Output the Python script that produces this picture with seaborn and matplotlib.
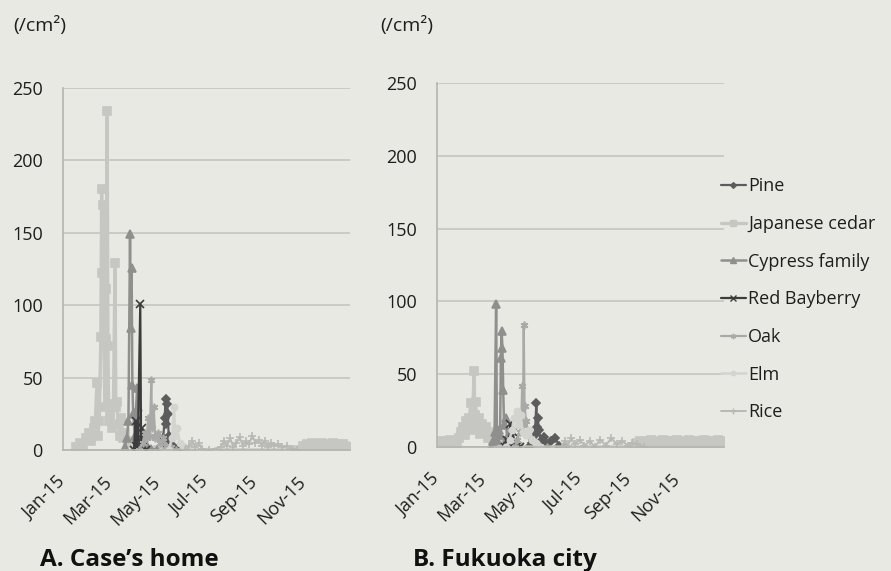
import numpy as np
import pandas as pd
import matplotlib
matplotlib.use("Agg")
import matplotlib.pyplot as plt
import matplotlib.dates as mdates
from matplotlib.lines import Line2D
import seaborn as sns

sns.set_theme(style="white")
plt.rcParams["font.family"] = ["Open Sans", "DejaVu Sans"]

YEAR = "2015-"

# ---------------- Data: A. Case's home ----------------
home_pine_dates = ["05-01", "05-05", "05-08", "05-10", "05-11", "05-12", "05-13", "05-14", "05-15", "05-17", "05-20", "05-25", "06-01"]
home_pine_vals = [0, 3, 8, 22, 35, 18, 32, 25, 10, 6, 3, 1, 0]

home_cedar_dates = ["01-18", "01-22", "01-26", "01-30", "02-03", "02-06", "02-09", "02-11", "02-13", "02-14", "02-16",
                    "02-18", "02-19", "02-20", "02-21", "02-22", "02-23", "02-24", "02-25", "02-26", "02-27", "02-28",
                    "03-02", "03-04", "03-06", "03-08", "03-09", "03-10", "03-12", "03-14", "03-16", "03-18", "03-21",
                    "03-24", "03-28", "04-02", "04-08", "04-15", "05-01", "10-25",
                    "11-01", "11-04", "11-07", "11-10", "11-13", "11-16", "11-19", "11-22", "11-25", "11-28",
                    "12-01", "12-04", "12-07", "12-10", "12-13", "12-16", "12-19", "12-22", "12-25", "12-28"]
home_cedar_vals = [2, 5, 3, 8, 12, 6, 15, 20, 46, 10, 20,
                   78, 180, 122, 169, 73, 30, 111, 77, 234, 72, 20,
                   25, 15, 32, 129, 30, 33, 18, 10, 22, 8, 12,
                   5, 6, 3, 2, 1, 0, 0,
                   3, 2, 4, 3, 5, 2, 4, 3, 5, 3,
                   4, 2, 4, 5, 3, 4, 2, 4, 3, 2]

home_cypress_dates = ["03-20", "03-23", "03-25", "03-27", "03-28", "03-29", "03-30", "03-31", "04-02", "04-05", "04-06",
                      "04-08", "04-10", "04-13", "04-17", "04-22", "04-30"]
home_cypress_vals = [2, 8, 20, 149, 84, 126, 45, 25, 10, 43, 30, 14, 8, 5, 3, 1, 0]

home_bayberry_dates = ["04-01", "04-03", "04-04", "04-06", "04-09", "04-10", "04-11", "04-13", "04-16"]
home_bayberry_vals = [0, 20, 3, 8, 101, 5, 15, 3, 0]

home_oak_dates = ["04-08", "04-12", "04-15", "04-17", "04-19", "04-21", "04-23", "04-24", "04-26", "04-28",
                  "05-01", "05-04", "05-08", "05-12", "05-18", "05-24"]
home_oak_vals = [0, 5, 12, 8, 22, 10, 48, 15, 30, 8, 12, 5, 8, 3, 2, 0]

home_elm_dates = ["05-15", "05-19", "05-22", "05-23", "05-26", "05-29", "06-02", "06-08", "06-15"]
home_elm_vals = [0, 8, 30, 10, 15, 5, 3, 1, 0]

home_rice_dates = ["06-05", "06-10", "06-14", "06-18", "06-22", "06-26", "07-05", "07-20", "07-24", "07-28",
                   "08-01", "08-05", "08-09", "08-13", "08-17", "08-21", "08-25", "08-29", "09-02", "09-06",
                   "09-10", "09-14", "09-18", "09-22", "09-26", "10-01", "10-06", "10-12", "10-18", "10-25"]
home_rice_vals = [0, 3, 6, 2, 5, 1, 0, 2, 6, 3, 8, 2, 5, 9, 3, 6, 4, 10, 5, 7, 3, 6, 2, 5, 3, 4, 2, 3, 1, 0]

# ---------------- Data: B. Fukuoka city ----------------
city_pine_dates = ["04-28", "05-02", "05-05", "05-07", "05-08", "05-09", "05-10", "05-13", "05-17", "05-21", "05-26",
                   "05-31", "06-05", "06-12"]
city_pine_vals = [0, 3, 8, 30, 14, 20, 12, 4, 7, 2, 4, 6, 1, 0]

city_cedar_dates = ["01-02", "01-05", "01-08", "01-11", "01-14", "01-17", "01-20", "01-23", "01-26", "01-29",
                    "02-01", "02-03", "02-05", "02-07", "02-09", "02-11", "02-13", "02-15", "02-17", "02-18",
                    "02-19", "02-21", "02-23", "02-25", "02-27", "03-01", "03-04", "03-07", "03-10", "03-13",
                    "03-16", "03-19", "03-24", "03-30", "04-06", "04-15", "09-08",
                    "09-12", "09-15", "09-18", "09-21", "09-24", "09-27", "09-30", "10-03", "10-06",
                    "10-09", "10-12", "10-15", "10-18", "10-21", "10-24", "10-27", "10-30", "11-02", "11-05",
                    "11-08", "11-11", "11-14", "11-17", "11-20", "11-23", "11-26", "11-29", "12-02", "12-05",
                    "12-08", "12-11", "12-14", "12-17", "12-20", "12-23", "12-26", "12-29", "12-31"]
city_cedar_vals = [3, 4, 2, 4, 3, 5, 3, 4, 2, 6,
                   10, 14, 8, 18, 12, 20, 30, 15, 52, 22,
                   31, 12, 20, 9, 16, 10, 14, 6, 10, 5,
                   8, 3, 4, 2, 1, 0, 0,
                   3, 4, 3, 2, 4, 3, 5, 3, 2,
                   4, 3, 5, 2, 4, 3, 4, 2, 5, 3,
                   4, 2, 3, 5, 3, 4, 2, 4, 3, 5,
                   2, 4, 3, 4, 2, 5, 3, 4, 3]

city_cypress_dates = ["03-10", "03-13", "03-15", "03-17", "03-18", "03-20", "03-22", "03-23", "03-24", "03-25",
                      "03-26", "03-27", "03-29", "03-31", "04-03", "04-08", "04-15"]
city_cypress_vals = [0, 4, 10, 98, 5, 12, 8, 61, 80, 68, 39, 15, 20, 6, 4, 2, 0]

city_bayberry_dates = ["03-28", "03-31", "04-02", "04-04", "04-05", "04-07", "04-09", "04-12", "04-16"]
city_bayberry_vals = [0, 5, 3, 16, 2, 10, 4, 1, 0]

city_oak_dates = ["04-10", "04-13", "04-16", "04-18", "04-19", "04-20", "04-21", "04-22", "04-24", "04-27",
                  "04-30", "05-05", "05-12", "05-20"]
city_oak_vals = [0, 5, 10, 20, 42, 15, 84, 28, 18, 10, 6, 3, 1, 0]

city_elm_dates = ["03-30", "04-03", "04-06", "04-09", "04-12", "04-14", "04-17", "04-20", "04-24", "04-28",
                  "05-02", "05-06", "05-12"]
city_elm_vals = [0, 5, 12, 20, 25, 15, 22, 10, 8, 12, 5, 3, 0]

city_rice_dates = ["06-08", "06-12", "06-16", "06-20", "06-25", "07-01", "07-07", "07-14", "07-20", "07-27",
                   "08-03", "08-10", "08-17", "08-24", "08-31", "09-05", "09-12", "09-20"]
city_rice_vals = [0, 4, 1, 6, 2, 5, 1, 4, 0, 5, 1, 6, 2, 4, 1, 3, 2, 0]

taxa = ["Pine", "Japanese cedar", "Cypress family", "Red Bayberry", "Oak", "Elm", "Rice"]
panel_titles = ["A. Case\u2019s home", "B. Fukuoka city"]
y_ticks = [0, 50, 100, 150, 200, 250]

home = [(home_pine_dates, home_pine_vals), (home_cedar_dates, home_cedar_vals),
        (home_cypress_dates, home_cypress_vals), (home_bayberry_dates, home_bayberry_vals),
        (home_oak_dates, home_oak_vals), (home_elm_dates, home_elm_vals), (home_rice_dates, home_rice_vals)]
city = [(city_pine_dates, city_pine_vals), (city_cedar_dates, city_cedar_vals),
        (city_cypress_dates, city_cypress_vals), (city_bayberry_dates, city_bayberry_vals),
        (city_oak_dates, city_oak_vals), (city_elm_dates, city_elm_vals), (city_rice_dates, city_rice_vals)]

# ---------------- Styles ----------------
colors = ["#5c5c5c", "#c6c6c3", "#8f8f8d", "#3c3c3c", "#a9a9a7", "#d3d3d0", "#b8b8b5"]
markers = ["D", "s", "^", "x", (6, 2, 0), "o", "+"]
msizes = [4.2, 6, 5.5, 5.5, 5.5, 4.5, 5.5]
lwidths = [1.6, 2.4, 1.8, 1.6, 1.6, 1.8, 1.4]

BG = "#e9e9e4"
TXT = "#1e1e1e"
fig = plt.figure(figsize=(8.91, 5.71), dpi=100, facecolor=BG)
W, H = 891, 571

def px_axes(x0, x1, y_top, y_bot):
    return fig.add_axes([x0 / W, 1 - y_bot / H, (x1 - x0) / W, (y_bot - y_top) / H])

ax_l = px_axes(63, 350, 88, 450)
ax_r = px_axes(437, 724, 83, 447)

for ax, data in [(ax_l, home), (ax_r, city)]:
    ax.set_facecolor(BG)
    for i, (d, v) in enumerate(data):
        df = pd.DataFrame({"date": pd.to_datetime([YEAR + s for s in d]), "value": v})
        sns.lineplot(data=df, x="date", y="value", ax=ax, color=colors[i], marker=markers[i],
                     markersize=msizes[i], markeredgecolor=colors[i], markeredgewidth=1.2,
                     linewidth=lwidths[i], estimator=None, sort=False, legend=False)
    ax.set_ylim(0, 250)
    ax.set_yticks(y_ticks)
    ax.set_xlim(pd.Timestamp("2015-01-01"), pd.Timestamp("2015-12-31"))
    ax.xaxis.set_major_locator(mdates.MonthLocator(bymonth=[1, 3, 5, 7, 9, 11]))
    ax.xaxis.set_major_formatter(mdates.DateFormatter("%b-%y"))
    ax.set_xlabel("")
    ax.set_ylabel("")
    ax.yaxis.grid(True, color="#c8c8c2", linewidth=1.3)
    ax.set_axisbelow(True)
    for s in ["top", "right"]:
        ax.spines[s].set_visible(False)
    for s in ["left", "bottom"]:
        ax.spines[s].set_color("#b5b5b0")
        ax.spines[s].set_linewidth(1.2)
    ax.tick_params(axis="y", length=4.5, color="#b5b5b0", width=1.2, pad=10, labelsize=13, labelcolor=TXT)
    ax.tick_params(axis="x", length=4, color="#b5b5b0", width=1.2, pad=17, labelsize=13, labelcolor=TXT)
    for lab in ax.get_xticklabels():
        lab.set_rotation(45)
        lab.set_ha("right")
        lab.set_va("center")
        lab.set_rotation_mode("anchor")

fig.text(13 / W, 1 - 26 / H, "(/cm\u00b2)", fontsize=14, color=TXT, va="center", ha="left")
fig.text(380 / W, 1 - 26 / H, "(/cm\u00b2)", fontsize=14, color=TXT, va="center", ha="left")
fig.text(40 / W, 1 - 560 / H, panel_titles[0], fontsize=17.5, fontweight="bold", color="#111111", va="center", ha="left")
fig.text(413 / W, 1 - 560 / H, panel_titles[1], fontsize=17.5, fontweight="bold", color="#111111", va="center", ha="left")

handles = [Line2D([0], [0], color=colors[i], marker=markers[i], markersize=msizes[i] * 0.7,
                  markeredgecolor=colors[i], linewidth=lwidths[i]) for i in range(len(taxa))]
fig.legend(handles, taxa, loc="upper left", bbox_to_anchor=(714 / W, 1 - 170 / H), frameon=False,
           fontsize=13, handlelength=1.35, handletextpad=0.15, labelspacing=1.09, borderaxespad=0,
           labelcolor=TXT)

fig.savefig("out.png", dpi=100, facecolor=BG)
